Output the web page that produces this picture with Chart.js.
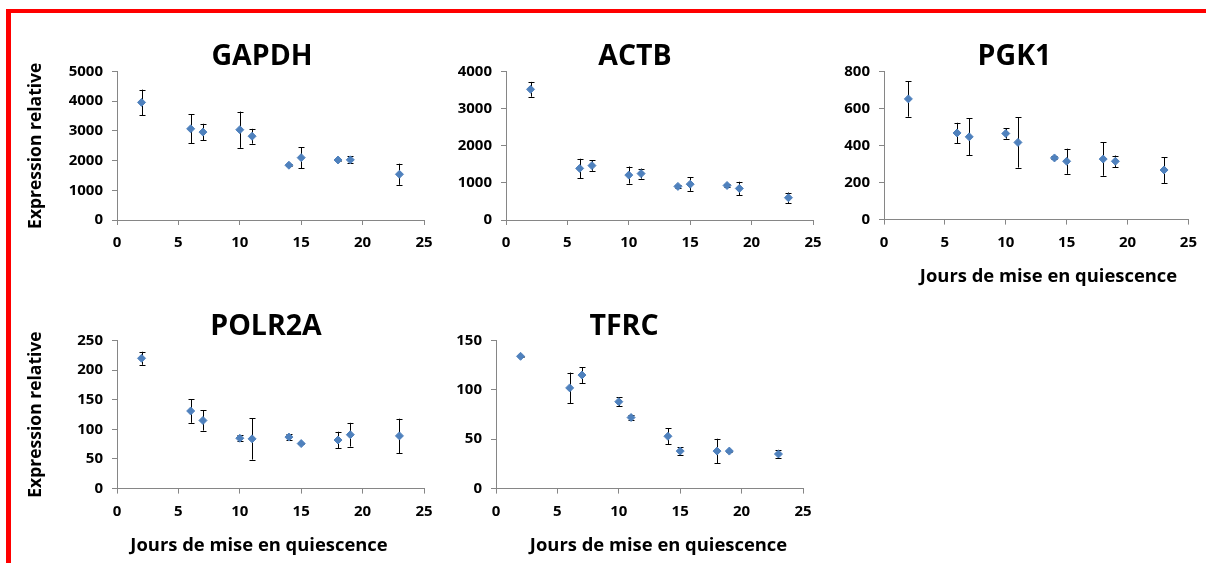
<!DOCTYPE html>
<html>
<head>
<meta charset="utf-8">
<script src="https://cdn.jsdelivr.net/npm/chart.js@4.4.1/dist/chart.umd.min.js"></script>
<style>
  html, body { margin: 0; padding: 0; background: #ffffff; }
  body { width: 1206px; height: 563px; position: relative; overflow: hidden; }
  #frame { position: absolute; left: 6px; top: 9px; right: 0; bottom: -10px;
           border-top: 4px solid #ff0000; border-left: 5px solid #ff0000; }
  canvas { position: absolute; }
</style>
</head>
<body>
<div id="frame"></div>
<canvas id="c0"></canvas>
<canvas id="c1"></canvas>
<canvas id="c2"></canvas>
<canvas id="c3"></canvas>
<canvas id="c4"></canvas>
<script>
// ---- data ----
const days = [2, 6, 7, 10, 11, 14, 15, 18, 19, 23];

const gapdhValues = [3960, 3070, 2960, 3040, 2820, 1845, 2100, 2020, 2025, 1540];
const gapdhErrors = [430, 490, 280, 610, 250, 40, 355, 30, 120, 355];

const actbValues = [3520, 1390, 1465, 1210, 1250, 905, 965, 930, 850, 600];
const actbErrors = [200, 260, 140, 230, 135, 30, 180, 30, 180, 140];

const pgk1Values = [652, 468, 447, 465, 417, 333, 315, 327, 315, 268];
const pgk1Errors = [96, 55, 100, 28, 136, 8, 68, 90, 31, 70];

const polr2aValues = [220, 131, 115, 85, 84, 87, 76, 82, 91, 89];
const polr2aErrors = [11, 20, 17, 5, 35, 4.5, 1, 14, 20, 29];

const tfrcValues = [134, 102, 115, 88, 72, 53, 38, 38, 38, 35];
const tfrcErrors = [0.5, 15.5, 8, 4.5, 3, 8, 4, 12.5, 0.5, 4.3];

const geneNames = ['GAPDH', 'ACTB', 'PGK1', 'POLR2A', 'TFRC'];
const yMaxima = [5000, 4000, 800, 250, 150];
const ySteps = [1000, 1000, 200, 50, 50];
const xTicksMax = 25;
const xStep = 5;
const yTitle = 'Expression relative';
const xTitle = 'Jours de mise en quiescence';

const seriesValues = [gapdhValues, actbValues, pgk1Values, polr2aValues, tfrcValues];
const seriesErrors = [gapdhErrors, actbErrors, pgk1Errors, polr2aErrors, tfrcErrors];

// ---- layout (canvas placement, axis box sizes, title centres in canvas px) ----
const layouts = [
  { left: 12,  top: 14,  width: 440, height: 241, padL: 0, padR: 28, yW: 105, xH: 35, titleTop: 29, titleBottom: 0,  titleX: 250,   yTitle: true,  xTitle: false },
  { left: 450, top: 14,  width: 385, height: 241, padL: 7, padR: 22, yW: 49,  xH: 35, titleTop: 29, titleBottom: 0,  titleX: 185,   yTitle: false, xTitle: false },
  { left: 838, top: 14,  width: 368, height: 272, padL: 0, padR: 14, yW: 46,  xH: 35, titleTop: 29, titleBottom: 0,  titleX: 176.5, yTitle: false, xTitle: true, xTitleX: 210.5 },
  { left: 12,  top: 290, width: 440, height: 265, padL: 0, padR: 28, yW: 105, xH: 35, titleTop: 23, titleBottom: -1, titleX: 254,   yTitle: true,  xTitle: true, xTitleX: 247 },
  { left: 442, top: 290, width: 383, height: 265, padL: 1, padR: 22, yW: 53,  xH: 35, titleTop: 23, titleBottom: -1, titleX: 182,   yTitle: false, xTitle: true, xTitleX: 216.5 }
];

const FONT = "'Open Sans', 'DejaVu Sans', sans-serif";
const AXIS_COLOR = '#868686';
const MARKER_COLOR = '#4F81BD';

const errorBarPlugin = {
  id: 'errorBars',
  beforeDatasetsDraw(chart) {
    const ctx = chart.ctx;
    const xs = chart.scales.x, ys = chart.scales.y;
    chart.data.datasets.forEach(ds => {
      const errs = ds.errors || [];
      ds.data.forEach((p, i) => {
        const e = errs[i];
        if (!e) return;
        const px = Math.round(xs.getPixelForValue(p.x)) + 0.5;
        const yTop = ys.getPixelForValue(p.y + e);
        const yBot = ys.getPixelForValue(p.y - e);
        ctx.save();
        ctx.strokeStyle = '#000000';
        ctx.lineWidth = 1;
        ctx.beginPath();
        ctx.moveTo(px, yTop); ctx.lineTo(px, yBot);
        ctx.moveTo(px - 3, Math.round(yTop) + 0.5); ctx.lineTo(px + 3, Math.round(yTop) + 0.5);
        ctx.moveTo(px - 3, Math.round(yBot) + 0.5); ctx.lineTo(px + 3, Math.round(yBot) + 0.5);
        ctx.stroke();
        ctx.restore();
      });
    });
  }
};

// centre the chart title / bottom subtitle on given x positions (Excel-like placement)
const titlePlacePlugin = {
  id: 'titlePlace',
  afterLayout(chart) {
    const L = chart.options.plugins.titlePlace;
    const t = chart.titleBlock;
    if (t && L.titleX != null) {
      const w = t.right - t.left;
      t.left = L.titleX - w / 2; t.right = L.titleX + w / 2;
    }
    if (L.xTitleX != null) {
      chart.boxes.forEach(b => {
        if (b !== t && b.options && b.options.text === xTitle) {
          const w = b.right - b.left;
          b.left = L.xTitleX - w / 2; b.right = L.xTitleX + w / 2;
        }
      });
    }
  }
};

geneNames.forEach((name, k) => {
  const L = layouts[k];
  const cv = document.getElementById('c' + k);
  cv.width = L.width; cv.height = L.height;
  cv.style.left = L.left + 'px'; cv.style.top = L.top + 'px';
  cv.style.width = L.width + 'px'; cv.style.height = L.height + 'px';

  const points = days.map((d, i) => ({ x: d, y: seriesValues[k][i] }));

  new Chart(cv, {
    type: 'scatter',
    data: {
      datasets: [{
        data: points,
        errors: seriesErrors[k],
        pointStyle: 'rectRot',
        pointRadius: 4,
        pointHoverRadius: 4,
        pointBackgroundColor: MARKER_COLOR,
        pointBorderColor: MARKER_COLOR,
        pointBorderWidth: 1,
        showLine: false
      }]
    },
    options: {
      responsive: false,
      animation: false,
      devicePixelRatio: 1,
      events: [],
      layout: { padding: { left: L.padL, right: L.padR, top: 0, bottom: 0 } },
      plugins: {
        legend: { display: false },
        tooltip: { enabled: false },
        titlePlace: { titleX: L.titleX, xTitleX: L.xTitle ? L.xTitleX : null },
        title: {
          display: true,
          text: name,
          color: '#000000',
          font: { family: FONT, size: 28.5, weight: 'bold', lineHeight: 1 },
          padding: { top: L.titleTop, bottom: L.titleBottom }
        },
        subtitle: {
          display: L.xTitle,
          position: 'bottom',
          text: xTitle,
          color: '#000000',
          font: { family: FONT, size: 18.4, weight: 'bold', lineHeight: 1 },
          padding: { top: 13, bottom: 0 }
        }
      },
      scales: {
        x: {
          type: 'linear',
          min: 0, max: xTicksMax,
          afterFit(s) { s.height = L.xH; },
          border: { display: true, color: AXIS_COLOR, width: 1 },
          grid: { display: true, drawOnChartArea: false, drawTicks: true, tickLength: 5, color: AXIS_COLOR },
          ticks: { stepSize: xStep, padding: 9, color: '#000000', maxRotation: 0,
                   callback: v => String(v),
                   font: { family: FONT, size: 15, weight: 'bold' } }
        },
        y: {
          type: 'linear',
          min: 0, max: yMaxima[k],
          afterFit(s) { s.width = L.yW; },
          border: { display: true, color: AXIS_COLOR, width: 1 },
          grid: { display: true, drawOnChartArea: false, drawTicks: true, tickLength: 5, color: AXIS_COLOR },
          ticks: { stepSize: ySteps[k], padding: 9, color: '#000000',
                   callback: v => String(v),
                   font: { family: FONT, size: 15, weight: 'bold' } },
          title: {
            display: L.yTitle,
            text: yTitle,
            color: '#000000',
            font: { family: FONT, size: 17.5, weight: 'bold' },
            padding: { top: 13.3, bottom: 0 }
          }
        }
      }
    },
    plugins: [errorBarPlugin, titlePlacePlugin]
  });
});
</script>
</body>
</html>
